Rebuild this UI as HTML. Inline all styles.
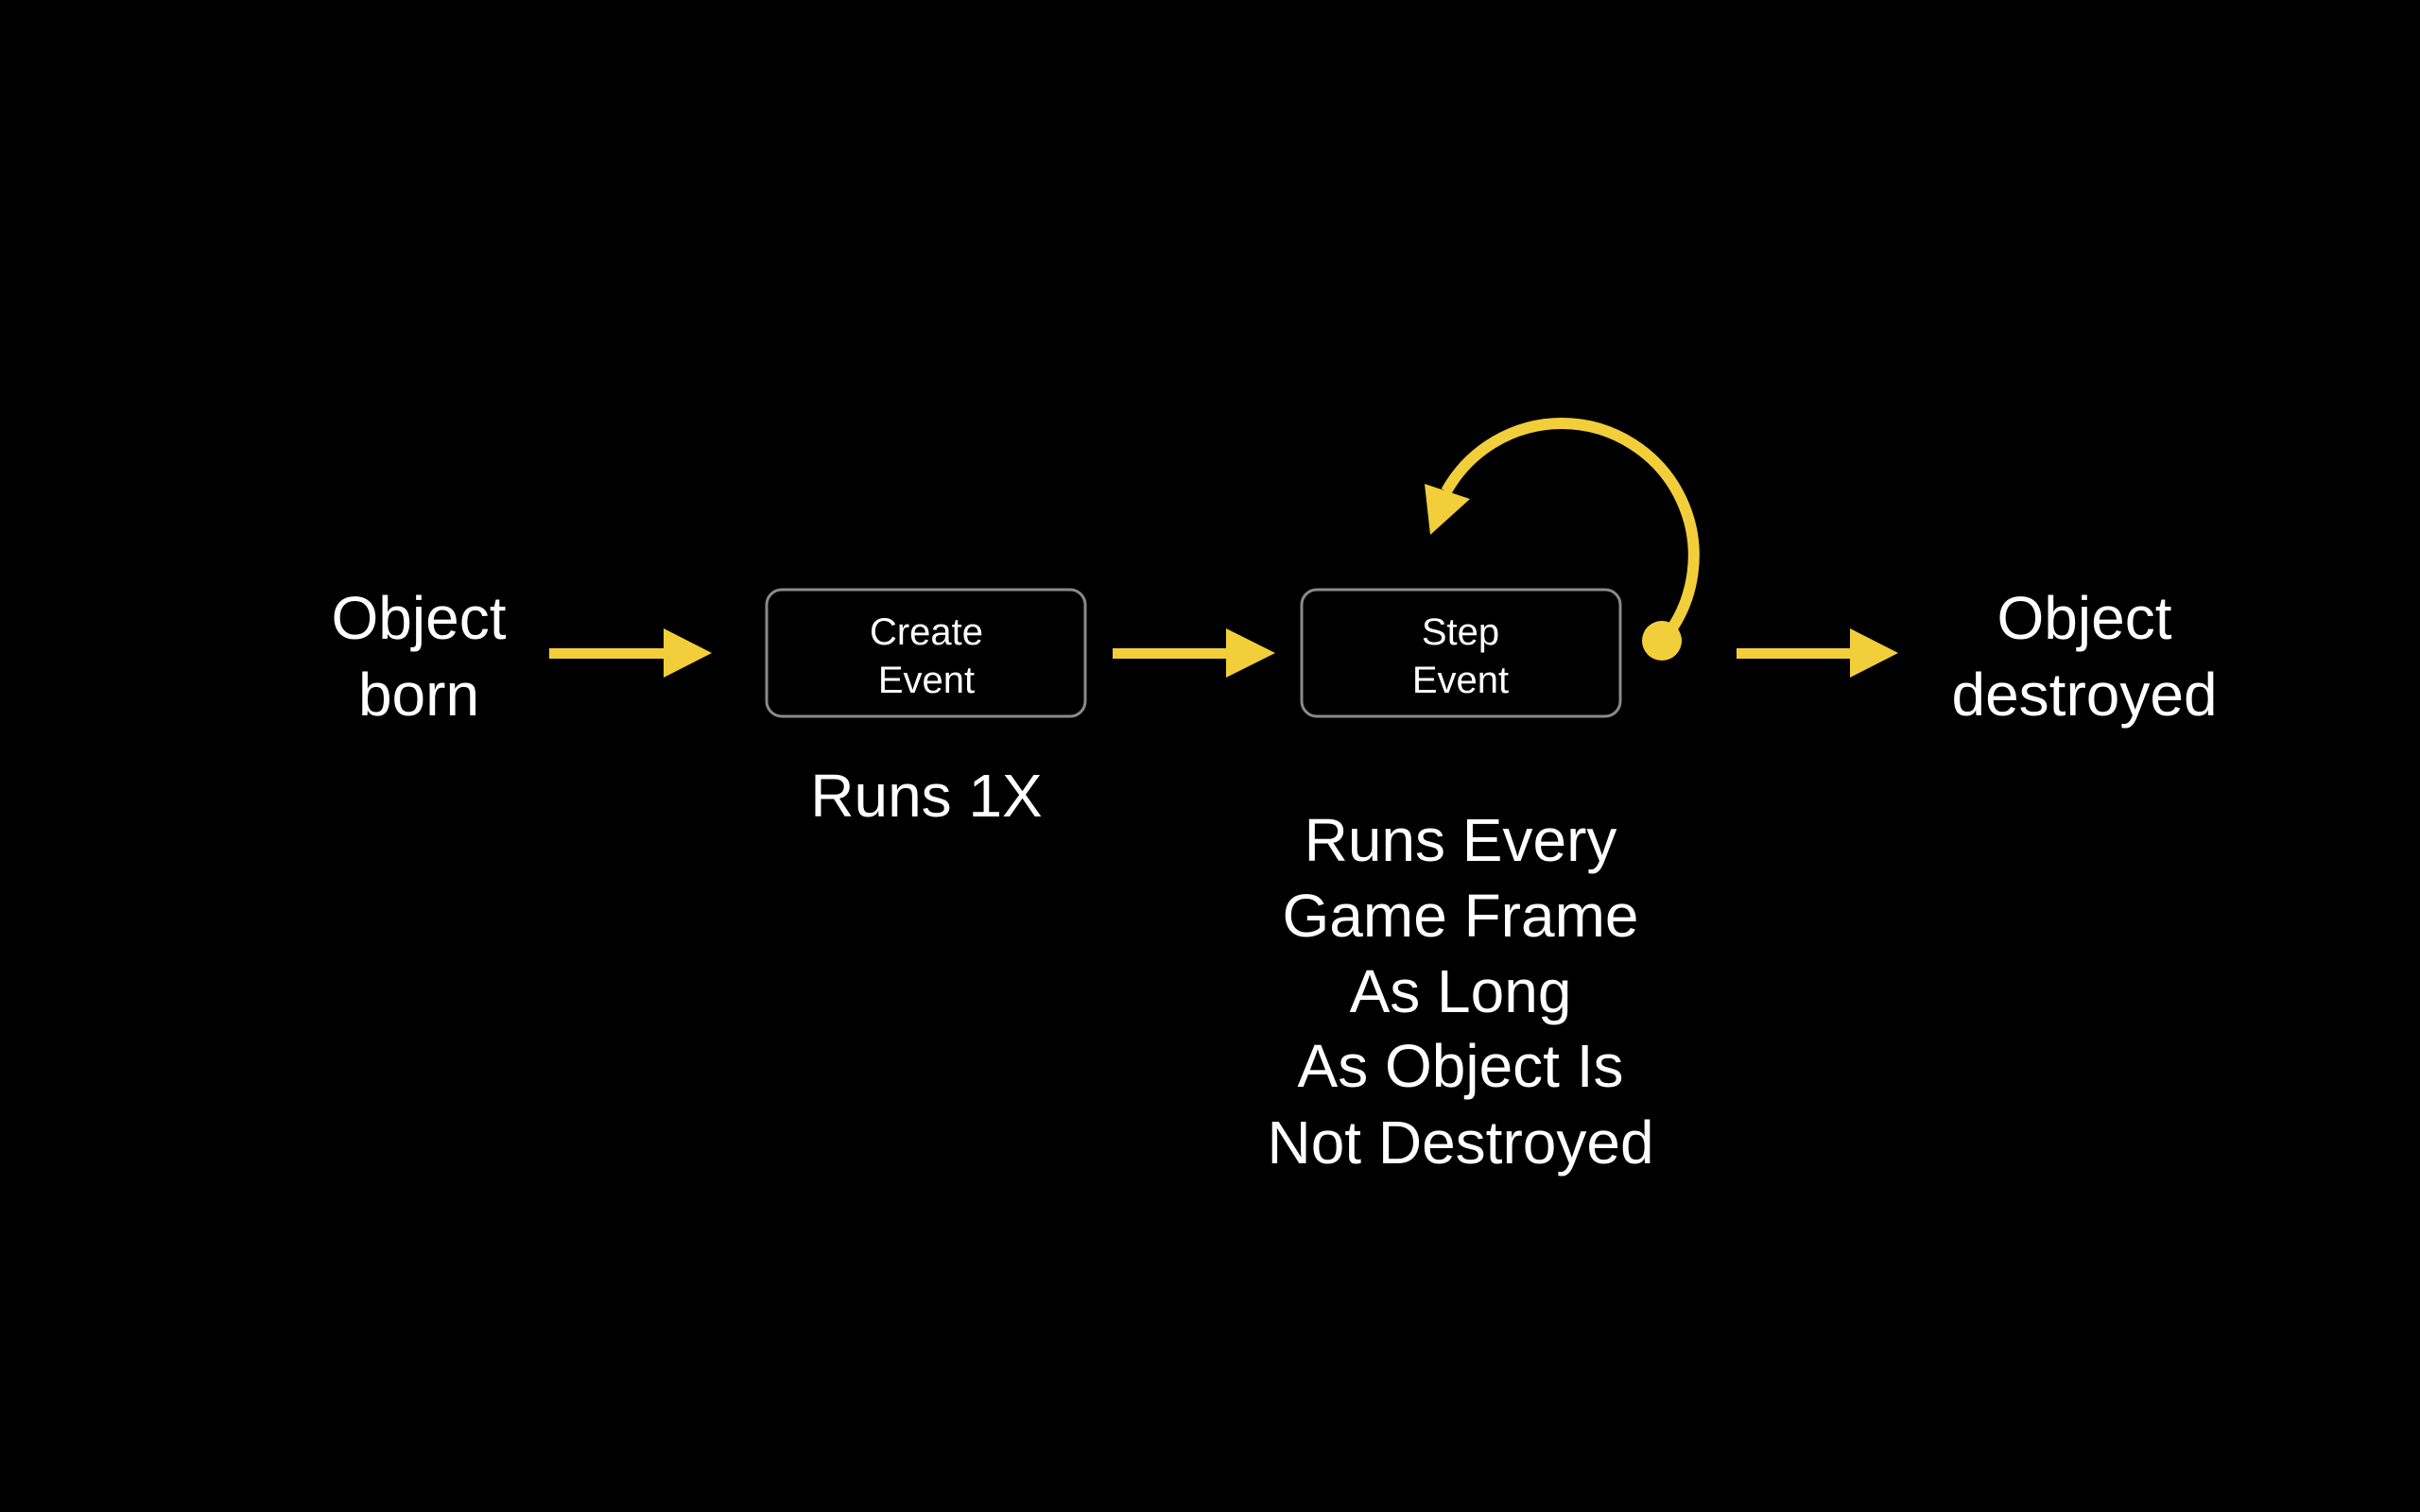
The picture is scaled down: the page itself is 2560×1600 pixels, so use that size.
<!DOCTYPE html>
<html><head><meta charset="utf-8"><style>
html,body{margin:0;padding:0;background:#000;}
svg{display:block}
text{font-family:"Liberation Sans",sans-serif;fill:#fff;text-anchor:middle}
</style></head><body>
<svg width="2560" height="1600" viewBox="0 0 2560 1600" xmlns="http://www.w3.org/2000/svg">
<rect width="2560" height="1600" fill="#000"/>
<g fill="#f2cf3a">
<rect x="581" y="686" width="124" height="11"/><polygon points="702,665 753,691 702,717"/>
<rect x="1177" y="686" width="124" height="11"/><polygon points="1297,665 1349,691 1297,717"/>
<rect x="1837" y="686" width="124" height="11"/><polygon points="1957,665 2008,691 1957,717"/>
<circle cx="1758" cy="678" r="21"/>
<polygon points="1513,566 1507,512 1555,528"/>
</g>
<path d="M 1759 678 A 140 140 0 0 0 1652 448 A 140 140 0 0 0 1530 520" fill="none" stroke="#f2cf3a" stroke-width="12"/>
<rect x="811" y="624" width="337" height="134" rx="16" fill="none" stroke="#8a8a8a" stroke-width="3"/>
<rect x="1377" y="624" width="337" height="134" rx="16" fill="none" stroke="#8a8a8a" stroke-width="3"/>
<g font-size="40">
<text x="980" y="682">Create</text><text x="980" y="733">Event</text>
<text x="1545" y="682">Step</text><text x="1545" y="733">Event</text>
</g>
<g font-size="64">
<text x="443" y="676">Object</text><text x="443" y="757">born</text>
<text x="2205" y="676">Object</text><text x="2205" y="757">destroyed</text>
<text x="980" y="864">Runs 1X</text>
<text x="1545" y="911">Runs Every</text>
<text x="1545" y="991">Game Frame</text>
<text x="1545" y="1071">As Long</text>
<text x="1545" y="1150">As Object Is</text>
<text x="1545" y="1231">Not Destroyed</text>
</g>
</svg>
</body></html>
